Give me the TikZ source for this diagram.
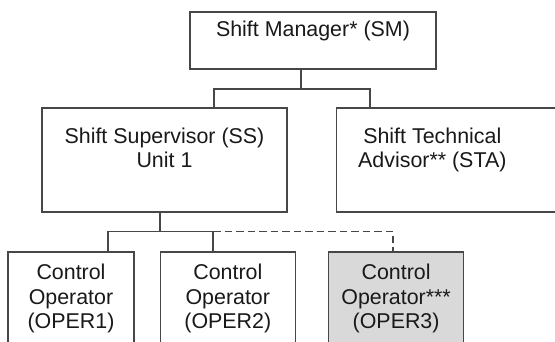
\documentclass[tikz,border=0pt]{standalone}
\usepackage{fontspec}
\setmainfont{Liberation Sans}
\usetikzlibrary{positioning}

\begin{document}
\begin{tikzpicture}[x=1pt, y=-1pt,
  box/.style={rectangle, draw=black!72, line width=1.3pt, fill=white,
              align=center, font=\fontsize{21.4}{24.5}\selectfont,
              text=black!90, inner sep=0pt},
  bigbox/.style={box, minimum width=245pt, minimum height=104pt},
  opbox/.style={box, minimum width=135pt, minimum height=93pt},
  lbl/.style={box, draw=none, fill=none},
  link/.style={draw=black!72, line width=1.3pt},
  dlink/.style={link, dash pattern=on 7.5pt off 4pt}
]
\useasboundingbox (0,0) rectangle (555,341);
\clip (0,0) rectangle (555,341);

% top level
\node[box, minimum width=246pt, minimum height=57pt] (sm) at (313,40.5)
  {Shift Manager* (SM)\\\mbox{}};

\node[bigbox] (ss) at (164.5,160) {Shift Supervisor (SS)\\Unit 1\\\mbox{}};
\node[bigbox, right=48pt of ss,
      label={[lbl, xshift=-26.5pt]center:{Shift Technical\\Advisor** (STA)\\\mbox{}}}] (sta) {};

% operators
\node[opbox, minimum width=126pt] (op1) at (71,298.5) {Control\\Operator\\(OPER1)};
\node[opbox, right=25pt of op1] (op2) {Control\\Operator\\(OPER2)};
\node[opbox, right=32pt of op2, fill=black!15] (op3) {Control\\Operator***\\(OPER3)};

\coordinate (smbus) at (301,89);
\coordinate (busl)  at (214,89);
\coordinate (busr)  at (370,89);
\coordinate (ssbus) at (160,231.5);
\coordinate (opl)   at (108,231.5);
\coordinate (opm)   at (213,231.5);
\coordinate (opr)   at (393,231.5);

\draw[link] (sm.south -| smbus) -- (smbus);
\draw[link] (ss.north -| busl) |- (busr) -- (sta.north -| busr);

\draw[link] (ss.south -| ssbus) -- (ssbus);
\draw[link] (op1.north -| opl) |- (opm) -- (op2.north -| opm);
\draw[dlink] (opm) -- (opr) -- (op3.north -| opr);

\end{tikzpicture}
\end{document}
